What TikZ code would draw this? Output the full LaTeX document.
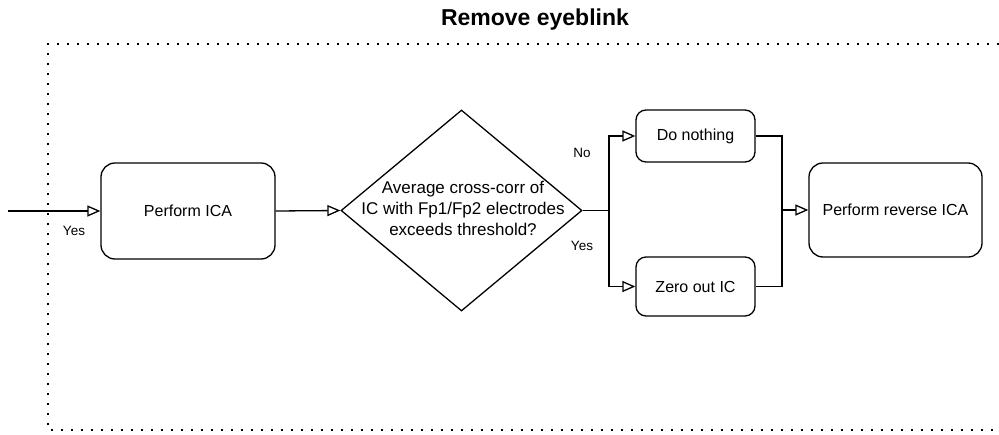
\documentclass[tikz,border=0pt]{standalone}
\usepackage{fontspec}
\setmainfont{Liberation Sans}
\usetikzlibrary{arrows.meta,shapes.geometric}
\begin{document}
\begin{tikzpicture}[x=1pt,y=-1pt,
  box/.style={draw, line width=1.3pt, rounded corners=#1, align=center,
    font=\fontsize{16}{19}\selectfont, inner sep=0pt},
  box/.default=14pt,
  conn/.style={line width=1.3pt, -{Triangle[open,length=13pt,width=11pt,line width=1.3pt]}},
  wire/.style={line width=1.3pt},
  lbl/.style={font=\fontsize{13.5}{16}\selectfont, inner sep=0pt},
  frame/.style={line width=2pt, dash pattern=on 2pt off 8pt},
]
\useasboundingbox (0,0) rectangle (999,434);

% title and dotted group frame
\node[font=\bfseries\fontsize{23}{27}\selectfont, anchor=base] (title) at (535,25) {Remove eyeblink};
\draw[frame] (999,44) -- (48,44) -- (48,430) -- (999,430);

% process steps
\node[box, minimum width=174pt, minimum height=96pt] (ica) at (188,211) {Perform ICA};
\node[draw, diamond, line width=1.3pt, inner sep=0pt, minimum width=241pt, minimum height=201pt] (dec) at (461.5,210.5) {};
\node[align=center, font=\fontsize{17}{21}\selectfont, inner sep=0pt] (dectext) at (463,208) {Average cross-corr of\\IC with Fp1/Fp2 electrodes\\exceeds threshold?};
\node[box=10pt, minimum width=119pt, minimum height=52pt] (nothing) at (695.5,136) {Do nothing};
\node[box=10pt, minimum width=119pt, minimum height=59pt] (zero) at (695.5,286.5) {Zero out IC};
\node[box, minimum width=173pt, minimum height=94pt] (rev) at (895.5,210) {Perform reverse ICA};

% connectors
\coordinate (in) at (8,211);
\coordinate (split) at (609,210.5);
\coordinate (join) at (782,210);
\draw[conn] (in) -- (ica.west);
\draw[conn] (ica.east) -- (dec.west);
\draw[conn] (dec.east) -- (split) |- (nothing.west);
\draw[conn] (split) |- (zero.west);
\draw[wire] (nothing.east) -| (join);
\draw[wire] (zero.east) -| (join);
\draw[conn] (join) -- (rev.west);

% branch labels
\node[lbl] (yesin) at (74,231) {Yes};
\node[lbl] (no) at (582,153) {No};
\node[lbl] (yes) at (582,246) {Yes};
\end{tikzpicture}
\end{document}
